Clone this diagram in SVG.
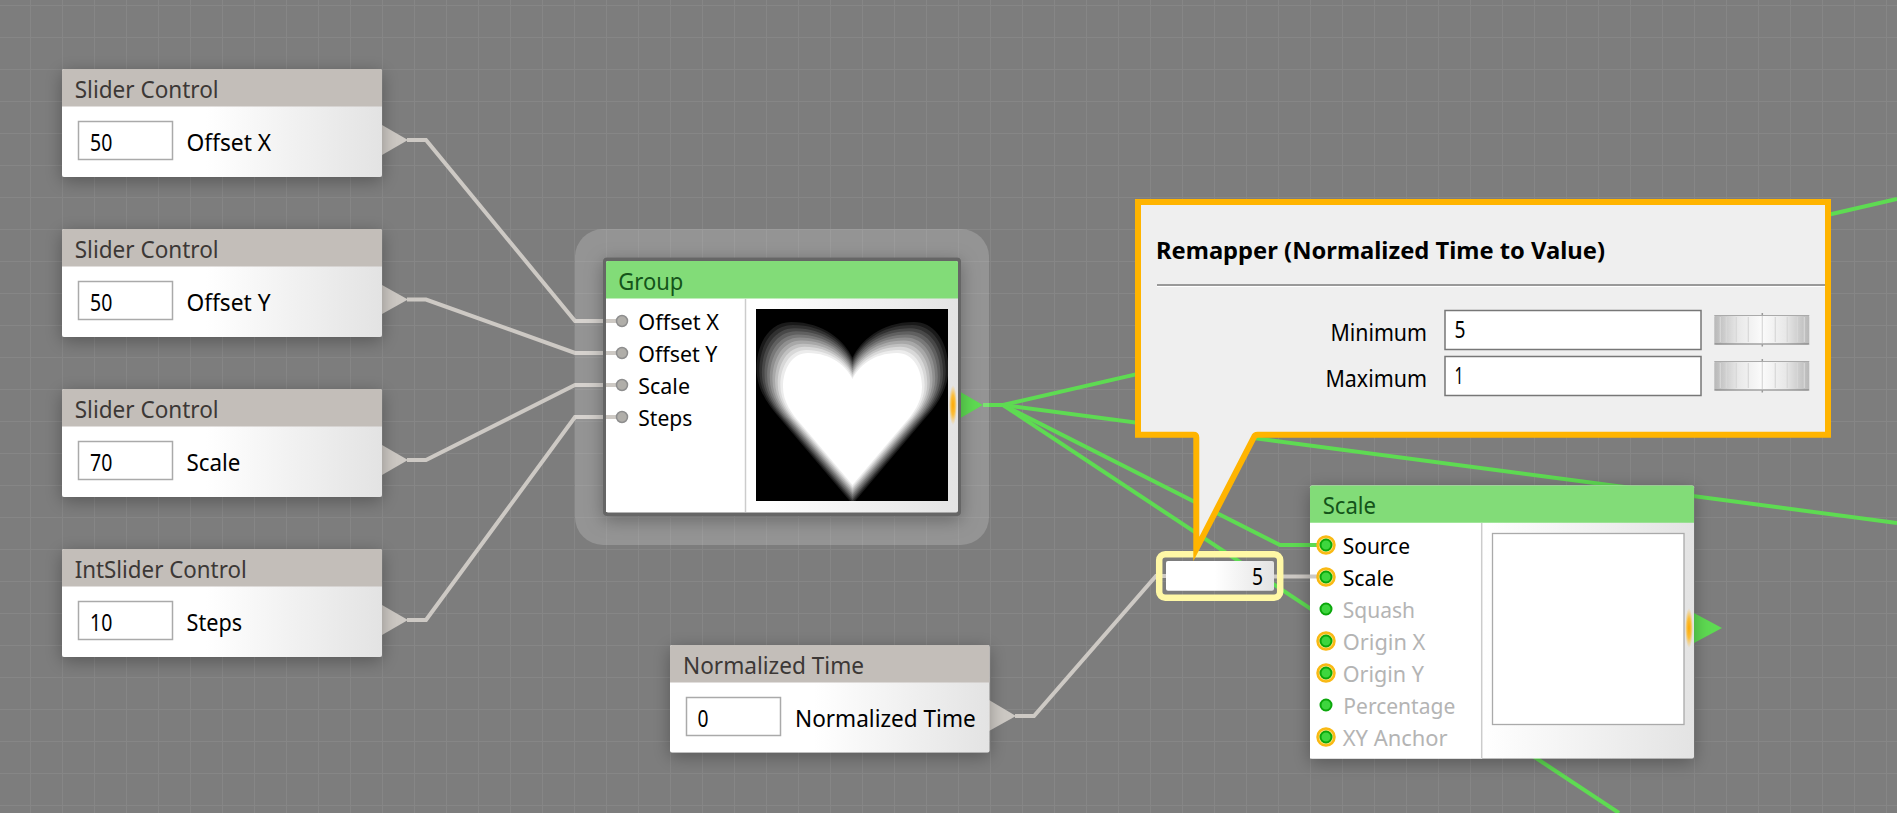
<svg xmlns="http://www.w3.org/2000/svg" xmlns:xlink="http://www.w3.org/1999/xlink" width="1897" height="813" viewBox="0 0 1897 813">
<style>
text{font-family:"Noto Sans","Open Sans","Liberation Sans",sans-serif;font-size:23px;fill:#000}
.hd{fill:#3c3836}.ghd{fill:#14541a}.pl{font-size:22px}.dim{fill:#b4b4b4}
.box{fill:url(#body);}
.head{fill:#c3beb9}.ghead{fill:#82dc78}
.inp{fill:#fff;stroke:#aaa;stroke-width:1.5}
.wg{fill:none;stroke:#5edb52;stroke-width:4}
.wc{fill:none;stroke:#cdc9c4;stroke-width:4}
.tc{fill:#cdc9c4}.tg{fill:#5edb52}
.gp{fill:#b0aea9;stroke:#8e8e8e;stroke-width:1.5}
.ring{fill:#ffe27a;stroke:#f9b914;stroke-width:2.5}
.dot{fill:#3ed63e;stroke:#0ba70b;stroke-width:2}
.div{stroke:#ccc;stroke-width:1.5}
.cin{fill:#fff;stroke:#777;stroke-width:1.5}
.rib{stroke:#d8d8d8;stroke-width:1.2}
.tick{stroke:#999;stroke-width:1.5}
</style>
<defs>
<pattern id="grid" width="32" height="32" patternUnits="userSpaceOnUse" x="29" y="4">
<path d="M0 1.500H32M1.500 0V32" fill="none" stroke="#868686" stroke-width="1"/>
</pattern>
<linearGradient id="body"><stop offset="0.45" stop-color="#fff"/><stop offset="1" stop-color="#e3e3e3"/></linearGradient>
<linearGradient id="wheel"><stop offset="0" stop-color="#b8b8b8"/><stop offset="0.25" stop-color="#e8e8e8"/><stop offset="0.5" stop-color="#fbfbfb"/><stop offset="0.75" stop-color="#e8e8e8"/><stop offset="1" stop-color="#b8b8b8"/></linearGradient>
<radialGradient id="glow"><stop offset="0" stop-color="#ffa800"/><stop offset="0.5" stop-color="#ffb820" stop-opacity="0.85"/><stop offset="1" stop-color="#ffc040" stop-opacity="0"/></radialGradient>
<filter id="sh" x="-20%" y="-30%" width="140%" height="160%"><feDropShadow dx="0" dy="4" stdDeviation="9" flood-color="#000" flood-opacity="0.3"/></filter>
<clipPath id="imgclip"><rect x="756" y="309" width="192" height="192"/></clipPath>
<path id="heart" d="M852.500 379C847 367 832 353 808 353C792 353 783 369 783 387C783 402 792 414 800 423L852.500 485L905 423C913 414 922 402 922 387C922 369 913 353 897 353C873 353 858 367 852.500 379Z"/>
<g id="wheelShape">
<line class="tick" x1="48" y1="-2" x2="48" y2="31.5"/>
<rect x="0" y="0" width="95" height="29.5" rx="2" fill="url(#wheel)"/>
<path class="rib" d="M6 2V27M12 2V27M22 2V27M34 2V27M48 1V28M61 2V27M73 2V27M83 2V27M90 2V27"/>
<path d="M0 29H95" stroke="#777" stroke-width="1"/>
<path d="M0 .5H95" stroke="#aaa" stroke-width="1"/>
</g>
</defs>
<rect width="1897" height="813" fill="#7d7d7d"/>
<rect width="1897" height="813" fill="url(#grid)"/>

<g id="connectors">
<path class="wc" d="M407 140H426L575 321H622"/>
<path class="wc" d="M407 299.500H426L575 353H622"/>
<path class="wc" d="M407 460H426L575 385H622"/>
<path class="wc" d="M407 620H426L575 417H622"/>
<path class="wc" d="M1015 716H1034L1156 576H1166"/>
<path class="wc" d="M1274 576.500H1326"/>
<path class="wg" d="M983 405H1003L1897 199"/>
<path class="wg" d="M1003 405L1897 523"/>
<path class="wg" d="M1003 405L1280 545H1326"/>
<path class="wg" d="M1003 405L1619 813"/>
</g>

<g id="slider-offset-x">
<path class="tc" d="M382 125L408 140L382 155Z"/>
<g filter="url(#sh)"><rect class="box" x="62" y="69" width="320" height="108" rx="2"/></g>
<path class="head" d="M62 106.500V71a2 2 0 0 1 2-2H380a2 2 0 0 1 2 2V106.500Z"/>
<text class="hd" x="74.700" y="97.500" textLength="144" lengthAdjust="spacingAndGlyphs">Slider Control</text>
<rect class="inp" x="78.500" y="121.500" width="94" height="38"/>
<text x="90" y="150.700" textLength="22.300" lengthAdjust="spacingAndGlyphs">50</text>
<text x="186.500" y="150.700" textLength="84.700" lengthAdjust="spacingAndGlyphs">Offset X</text>
</g>
<g id="slider-offset-y">
<path class="tc" d="M382 285L408 299.500L382 314Z"/>
<g filter="url(#sh)"><rect class="box" x="62" y="229" width="320" height="108" rx="2"/></g>
<path class="head" d="M62 266.500V231a2 2 0 0 1 2-2H380a2 2 0 0 1 2 2V266.500Z"/>
<text class="hd" x="74.700" y="257.500" textLength="144" lengthAdjust="spacingAndGlyphs">Slider Control</text>
<rect class="inp" x="78.500" y="281.500" width="94" height="38"/>
<text x="90" y="310.700" textLength="22.300" lengthAdjust="spacingAndGlyphs">50</text>
<text x="186.500" y="310.700" textLength="84" lengthAdjust="spacingAndGlyphs">Offset Y</text>
</g>
<g id="slider-scale">
<path class="tc" d="M382 445L408 460L382 475Z"/>
<g filter="url(#sh)"><rect class="box" x="62" y="389" width="320" height="108" rx="2"/></g>
<path class="head" d="M62 426.500V391a2 2 0 0 1 2-2H380a2 2 0 0 1 2 2V426.500Z"/>
<text class="hd" x="74.700" y="417.500" textLength="144" lengthAdjust="spacingAndGlyphs">Slider Control</text>
<rect class="inp" x="78.500" y="441.500" width="94" height="38"/>
<text x="90" y="470.700" textLength="22.300" lengthAdjust="spacingAndGlyphs">70</text>
<text x="186.500" y="470.700" textLength="54" lengthAdjust="spacingAndGlyphs">Scale</text>
</g>
<g id="intslider-steps">
<path class="tc" d="M382 605L408 620L382 635Z"/>
<g filter="url(#sh)"><rect class="box" x="62" y="549" width="320" height="108" rx="2"/></g>
<path class="head" d="M62 586.500V551a2 2 0 0 1 2-2H380a2 2 0 0 1 2 2V586.500Z"/>
<text class="hd" x="74.700" y="577.500" textLength="172" lengthAdjust="spacingAndGlyphs">IntSlider Control</text>
<rect class="inp" x="78.500" y="601.500" width="94" height="38"/>
<text x="90" y="630.700" textLength="22.300" lengthAdjust="spacingAndGlyphs">10</text>
<text x="186.500" y="630.700" textLength="55.700" lengthAdjust="spacingAndGlyphs">Steps</text>
</g>

<g id="group">
<rect x="575" y="229" width="414" height="316" rx="28" fill="#fff" fill-opacity="0.18"/>
<path class="tg" d="M957 390L983 405L957 420Z"/>
<g filter="url(#sh)"><rect x="603" y="257.500" width="358" height="258.500" rx="4" fill="#666"/></g>
<rect class="box" x="606" y="261" width="352" height="251.500" rx="2" fill="#fff"/>
<rect x="606" y="298" width="139" height="214" fill="#fff"/>
<path class="ghead" d="M606 298.500V263a2 2 0 0 1 2-2H956a2 2 0 0 1 2 2V298.500Z"/>
<line class="div" x1="745.500" y1="299" x2="745.500" y2="512"/>
<text class="ghd" x="618.300" y="290" textLength="65" lengthAdjust="spacingAndGlyphs">Group</text>
<path class="wc" d="M606 321H622M606 353H622M606 385H622M606 417H622"/>
<circle class="gp" cx="622" cy="321" r="5.500"/><circle class="gp" cx="622" cy="353" r="5.500"/><circle class="gp" cx="622" cy="385" r="5.500"/><circle class="gp" cx="622" cy="417" r="5.500"/>
<text class="pl" x="638.300" y="330" textLength="80.700" lengthAdjust="spacingAndGlyphs">Offset X</text>
<text class="pl" x="638.300" y="362" textLength="79" lengthAdjust="spacingAndGlyphs">Offset Y</text>
<text class="pl" x="638.300" y="394" textLength="51.700" lengthAdjust="spacingAndGlyphs">Scale</text>
<text class="pl" x="638.300" y="426" textLength="54" lengthAdjust="spacingAndGlyphs">Steps</text>
<rect x="756" y="309" width="192" height="192" fill="#000"/>
<g clip-path="url(#imgclip)">
<use href="#heart" fill="#1a1a1a" transform="translate(852.500 434.600) scale(1.38) translate(-852.500 -434.600)"/>
<use href="#heart" fill="#303030" transform="translate(852.500 434.600) scale(1.342) translate(-852.500 -434.600)"/>
<use href="#heart" fill="#484848" transform="translate(852.500 434.600) scale(1.304) translate(-852.500 -434.600)"/>
<use href="#heart" fill="#606060" transform="translate(852.500 434.600) scale(1.266) translate(-852.500 -434.600)"/>
<use href="#heart" fill="#787878" transform="translate(852.500 434.600) scale(1.228) translate(-852.500 -434.600)"/>
<use href="#heart" fill="#909090" transform="translate(852.500 434.600) scale(1.19) translate(-852.500 -434.600)"/>
<use href="#heart" fill="#a8a8a8" transform="translate(852.500 434.600) scale(1.152) translate(-852.500 -434.600)"/>
<use href="#heart" fill="#c0c0c0" transform="translate(852.500 434.600) scale(1.114) translate(-852.500 -434.600)"/>
<use href="#heart" fill="#d8d8d8" transform="translate(852.500 434.600) scale(1.076) translate(-852.500 -434.600)"/>
<use href="#heart" fill="#ececec" transform="translate(852.500 434.600) scale(1.038) translate(-852.500 -434.600)"/>
<use href="#heart" fill="#fff"/>
</g>
<ellipse cx="953" cy="405" rx="4" ry="20" fill="url(#glow)"/>
</g>

<g id="normalized-time">
<path class="tc" d="M989 700L1016 716L989 731Z"/>
<g filter="url(#sh)"><rect class="box" x="670" y="645" width="319.500" height="107.500" rx="2"/></g>
<path class="head" d="M670 682.500V647a2 2 0 0 1 2-2H987.500a2 2 0 0 1 2 2V682.500Z"/>
<text class="hd" x="683" y="674" textLength="181" lengthAdjust="spacingAndGlyphs">Normalized Time</text>
<rect class="inp" x="686.500" y="697.500" width="94" height="38"/>
<text x="697.500" y="726.700" textLength="11" lengthAdjust="spacingAndGlyphs">0</text>
<text x="795" y="726.700" textLength="180.700" lengthAdjust="spacingAndGlyphs">Normalized Time</text>
</g>

<g id="remapper-node">
<rect x="1159.200" y="554.200" width="121" height="43.500" rx="6" fill="none" stroke="#fff8a6" stroke-width="6.500"/>
<rect class="box" x="1166" y="561" width="108" height="29.700" rx="2"/>
<text x="1252" y="585" textLength="11" lengthAdjust="spacingAndGlyphs">5</text>
</g>

<g id="scale">
<path class="tg" d="M1694 613L1722 628L1694 643Z"/>
<g filter="url(#sh)"><rect class="box" x="1310" y="485.500" width="384" height="273" rx="2"/></g>
<rect x="1310" y="522" width="172" height="236.500" fill="#fff"/>
<path class="ghead" d="M1310 522.700V487.500a2 2 0 0 1 2-2H1692a2 2 0 0 1 2 2V522.700Z"/>
<line class="div" x1="1481.700" y1="523" x2="1481.700" y2="758"/>
<text class="ghd" x="1322.700" y="514" textLength="53.300" lengthAdjust="spacingAndGlyphs">Scale</text>
<rect x="1492.500" y="533.500" width="191.500" height="191" fill="#fff" stroke="#aaa" stroke-width="1.300"/>
<path class="wg" d="M1310 545H1326"/>
<path class="wc" d="M1310 576.500H1326"/>
<circle class="ring" cx="1326" cy="545" r="8.500"/><circle class="dot" cx="1326" cy="545" r="5.500"/>
<circle class="ring" cx="1326" cy="577" r="8.500"/><circle class="dot" cx="1326" cy="577" r="5.500"/>
<circle class="dot" cx="1326" cy="609" r="5.500"/>
<circle class="ring" cx="1326" cy="641" r="8.500"/><circle class="dot" cx="1326" cy="641" r="5.500"/>
<circle class="ring" cx="1326" cy="673" r="8.500"/><circle class="dot" cx="1326" cy="673" r="5.500"/>
<circle class="dot" cx="1326" cy="705" r="5.500"/>
<circle class="ring" cx="1326" cy="737" r="8.500"/><circle class="dot" cx="1326" cy="737" r="5.500"/>
<text class="pl" x="1342.700" y="553.500" textLength="67.300" lengthAdjust="spacingAndGlyphs">Source</text>
<text class="pl" x="1342.700" y="585.500" textLength="51.300" lengthAdjust="spacingAndGlyphs">Scale</text>
<text class="pl dim" x="1342.700" y="618" textLength="72.300" lengthAdjust="spacingAndGlyphs">Squash</text>
<text class="pl dim" x="1342.700" y="650" textLength="82.700" lengthAdjust="spacingAndGlyphs">Origin X</text>
<text class="pl dim" x="1342.700" y="682" textLength="81.300" lengthAdjust="spacingAndGlyphs">Origin Y</text>
<text class="pl dim" x="1343.300" y="714" textLength="112" lengthAdjust="spacingAndGlyphs">Percentage</text>
<text class="pl dim" x="1342.700" y="746" textLength="105" lengthAdjust="spacingAndGlyphs">XY Anchor</text>
<ellipse cx="1689" cy="628" rx="4" ry="20" fill="url(#glow)"/>
</g>

<g id="callout">
<path d="M1138 202H1828V434.700H1257.500Q1255 434.700 1254 437L1196.300 549V437.500Q1196.300 434.700 1193.500 434.700H1138Z" fill="#efefef" stroke="#ffb400" stroke-width="6" stroke-miterlimit="10"/>
<text x="1156" y="258.500" textLength="449" lengthAdjust="spacingAndGlyphs" style="font-weight:700">Remapper (Normalized Time to Value)</text>
<rect x="1157" y="284" width="668" height="2" fill="#999"/>
<rect x="1157" y="286" width="668" height="1" fill="#fff"/>
<text x="1330.400" y="340.700" textLength="96.600" lengthAdjust="spacingAndGlyphs">Minimum</text>
<text x="1325.400" y="386.700" textLength="101.600" lengthAdjust="spacingAndGlyphs">Maximum</text>
<rect class="cin" x="1445" y="310.500" width="256" height="39"/>
<rect class="cin" x="1445" y="356.500" width="256" height="39"/>
<text x="1454.500" y="337.500" textLength="11" lengthAdjust="spacingAndGlyphs">5</text>
<text x="1454.500" y="383.500" textLength="9" lengthAdjust="spacingAndGlyphs">1</text>
<use href="#wheelShape" transform="translate(1714.300 315)"/>
<use href="#wheelShape" transform="translate(1714.300 361)"/>
</g>
</svg>
